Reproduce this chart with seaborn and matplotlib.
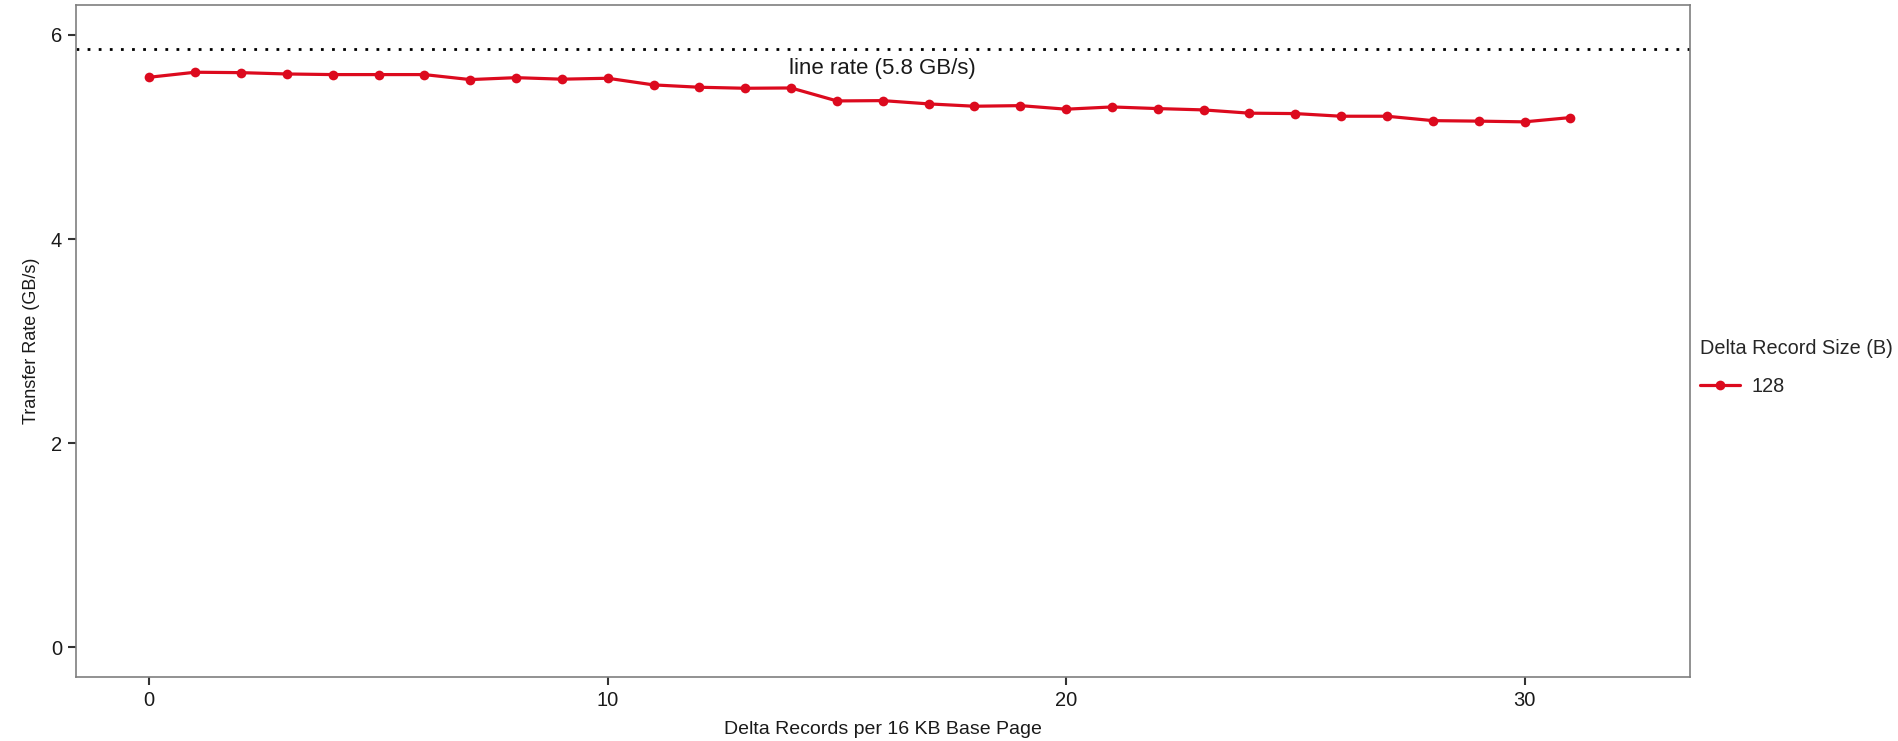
import matplotlib
matplotlib.use("Agg")
from matplotlib import pyplot as plt
import pandas as pd
import seaborn as sns

# data
records = list(range(32))
rate = [5.586, 5.635, 5.631, 5.618, 5.612, 5.612, 5.612, 5.563, 5.582, 5.567,
        5.576, 5.511, 5.488, 5.478, 5.481, 5.354, 5.357, 5.325, 5.302, 5.308,
        5.273, 5.295, 5.279, 5.266, 5.234, 5.230, 5.204, 5.204, 5.161, 5.156,
        5.149, 5.191]
record_size = ["128"] * len(records)
line_rate = 5.86
line_label = "line rate (5.8 GB/s)"

df = pd.DataFrame({
        "records": records,
        "rate": rate,
        "Delta Record Size (B)": record_size,
        })

sns.set_theme(style="white")
plt.rcParams["font.family"] = ["Liberation Sans", "DejaVu Sans"]

fig = plt.figure(figsize=(18.99, 7.41), dpi=100)
ax = fig.add_axes([0.040, 0.0857, 0.8497, 0.9076])

sns.lineplot(
    data=df,
    x="records",
    y="rate",
    hue="Delta Record Size (B)",
    palette=["#DC0A1E"],
    marker="o",
    markersize=7,
    markeredgewidth=0,
    linewidth=2.3,
    ax=ax,
)

ax.axhline(line_rate, color="black", linewidth=2, linestyle=(0, (1, 3)),
           dash_capstyle="butt")
ax.text(16, 5.67, line_label, ha="center", va="center", fontsize=16,
        color="#1a1a1a")

ax.set_xlim(-1.6, 33.6)
ax.set_ylim(-0.294, 6.294)
ax.set_xticks([0, 10, 20, 30])
ax.set_yticks([0, 2, 4, 6])
ax.tick_params(axis="both", which="both", direction="out", length=6, width=1.5,
               color="#333333", labelsize=14.5, labelcolor="#1a1a1a", pad=4,
               bottom=True, left=True)
for s in ax.spines.values():
    s.set_color("#7f7f7f")
    s.set_linewidth(1.2)

ax.set_xlabel("Delta Records per 16 KB Base Page", fontsize=14,
              color="#1a1a1a", labelpad=8)
ax.set_ylabel("Transfer Rate (GB/s)", fontsize=13, color="#1a1a1a",
              labelpad=8)

leg = ax.legend(title="Delta Record Size (B)", loc="center left",
                bbox_to_anchor=(1.003, 0.461), borderaxespad=0.0, borderpad=0.3,
                frameon=False, fontsize=14.3, title_fontsize=14.3,
                handlelength=2.0, handletextpad=0.6, labelspacing=1.0)
leg._legend_box.align = "left"

fig.savefig("out.png", dpi=100)
